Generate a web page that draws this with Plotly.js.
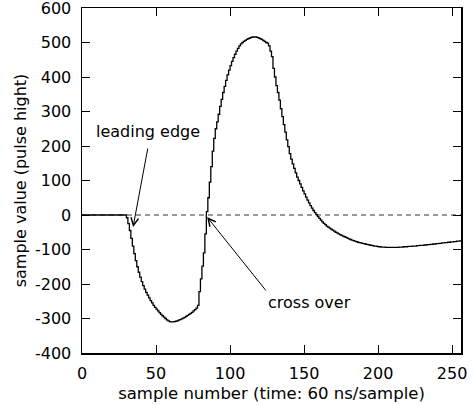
<!DOCTYPE html>
<html>
<head>
<meta charset="utf-8">
<script src="https://cdn.plot.ly/plotly-3.0.1.min.js"></script>
<style>
html, body { margin: 0; padding: 0; background: #fff; }
#chart { width: 473px; height: 405px; }
</style>
</head>
<body>
<div id="chart"></div>
<script>
// sample values (pulse height), one per sample number 0..256
var sampleValues = [
  0, 0, 0, 0, 0, 0, 0, 0, 0, 0,
  0, 0, 0, 0, 0, 0, 0, 0, 0, 0,
  0, 0, 0, 0, 0, 0, 0, 0, 0, 0,
  -8, -25, -45, -68, -90, -112, -132, -150, -166, -180,
  -193, -205, -215, -224, -232, -240, -248, -255, -262, -268,
  -273, -278, -283, -288, -292, -296, -300, -304, -307, -309,
  -310, -310, -309, -308, -307, -305, -303, -301, -299, -297,
  -294, -291, -288, -285, -282, -278, -274, -270, -262, -222,
  -185, -148, -110, -55, 10, 50, 95, 140, 185, 222,
  250, 270, 292, 315, 335, 355, 373, 390, 406, 420,
  433, 445, 456, 466, 475, 483, 490, 496, 500, 503,
  506, 509, 511, 513, 515, 516, 516, 516, 515, 513,
  511, 509, 506, 503, 500, 498, 490, 475, 459, 425,
  400, 375, 355, 333, 308, 285, 262, 240, 218, 198,
  178, 162, 148, 135, 122, 110, 100, 90, 80, 70,
  61, 52, 43, 35, 27, 20, 13, 7, 1, -5,
  -10, -15, -20, -24, -28, -32, -35, -38, -41, -44,
  -47, -50, -52, -55, -57, -59, -61, -63, -65, -67,
  -69, -71, -73, -74, -76, -77, -79, -80, -81, -82,
  -83, -84, -85, -86, -87, -88, -89, -90, -90, -91,
  -92, -92, -93, -93, -93, -94, -94, -94, -94, -94,
  -94, -94, -94, -94, -93, -93, -93, -92, -92, -92,
  -91, -91, -91, -90, -90, -90, -89, -89, -88, -88,
  -88, -87, -87, -86, -86, -85, -85, -84, -84, -83,
  -83, -82, -82, -81, -81, -80, -80, -79, -79, -78,
  -78, -77, -77, -76, -76, -75, -75
];
var sampleNumbers = sampleValues.map(function (v, i) { return i; });

var xTicks = [0, 50, 100, 150, 200, 250];
var yTicks = [-400, -300, -200, -100, 0, 100, 200, 300, 400, 500, 600];
var xRange = [0, 256];
var yRange = [-400, 600];

var xTitle = 'sample number (time: 60 ns/sample)';
var yTitle = 'sample value (pulse hight)';

var annLeadingEdge = { text: 'leading edge', x: 44.6, y: 243, headX: 34.5, headY: -35, tailX: 44.6, tailY: 197 };
var annCrossOver = { text: 'cross over', x: 154, y: -255, headX: 84.5, headY: -6, tailX: 125, tailY: -223 };

var FONT = 'DejaVu Sans, sans-serif';

var trace = {
  x: sampleNumbers,
  y: sampleValues,
  type: 'scatter',
  mode: 'lines',
  line: { shape: 'hv', color: '#000', width: 1.3 },
  hoverinfo: 'skip'
};

function arrow(a) {
  return {
    x: a.headX, y: a.headY, xref: 'x', yref: 'y',
    ax: a.tailX, ay: a.tailY, axref: 'x', ayref: 'y',
    text: '', showarrow: true, arrowhead: 5, arrowsize: 1.5, arrowwidth: 1,
    arrowcolor: '#000', standoff: 0, startstandoff: 0
  };
}
function label(a) {
  return {
    x: a.x, y: a.y, xref: 'x', yref: 'y', text: a.text, showarrow: false,
    font: { family: FONT, size: 16, color: '#000' }
  };
}

var layout = {
  width: 473, height: 405,
  margin: { l: 82, r: 12, t: 8, b: 52, pad: 0 },
  paper_bgcolor: '#fff', plot_bgcolor: '#fff',
  showlegend: false,
  font: { family: FONT, size: 16, color: '#000' },
  xaxis: {
    range: xRange, tickvals: xTicks, ticktext: xTicks.map(String),
    ticks: 'inside', ticklen: 8, tickwidth: 1, tickcolor: '#000',
    showline: true, linecolor: '#000', linewidth: 1.5, mirror: 'ticks',
    showgrid: false, zeroline: false,
    tickfont: { family: FONT, size: 16, color: '#000' },
    ticklabelstandoff: 5, ticklabeloverflow: 'allow',
    title: { text: xTitle, font: { family: FONT, size: 16.5, color: '#000' }, standoff: 5 }
  },
  yaxis: {
    range: yRange, tickvals: yTicks, ticktext: yTicks.map(String),
    ticks: 'inside', ticklen: 8, tickwidth: 1, tickcolor: '#000',
    showline: true, linecolor: '#000', linewidth: 1.5, mirror: 'ticks',
    showgrid: false, zeroline: false,
    tickfont: { family: FONT, size: 16, color: '#000' },
    ticklabelstandoff: 6, ticklabeloverflow: 'allow',
    title: { text: yTitle, font: { family: FONT, size: 16, color: '#000' }, standoff: 4 }
  },
  shapes: [{
    type: 'line', xref: 'paper', yref: 'y', x0: 0, x1: 1, y0: 0, y1: 0,
    line: { color: '#333', width: 1, dash: '5px,4px' }, layer: 'below'
  }],
  annotations: [arrow(annLeadingEdge), label(annLeadingEdge), arrow(annCrossOver), label(annCrossOver)]
};

Plotly.newPlot('chart', [trace], layout, { displayModeBar: false, staticPlot: true });
</script>
</body>
</html>
